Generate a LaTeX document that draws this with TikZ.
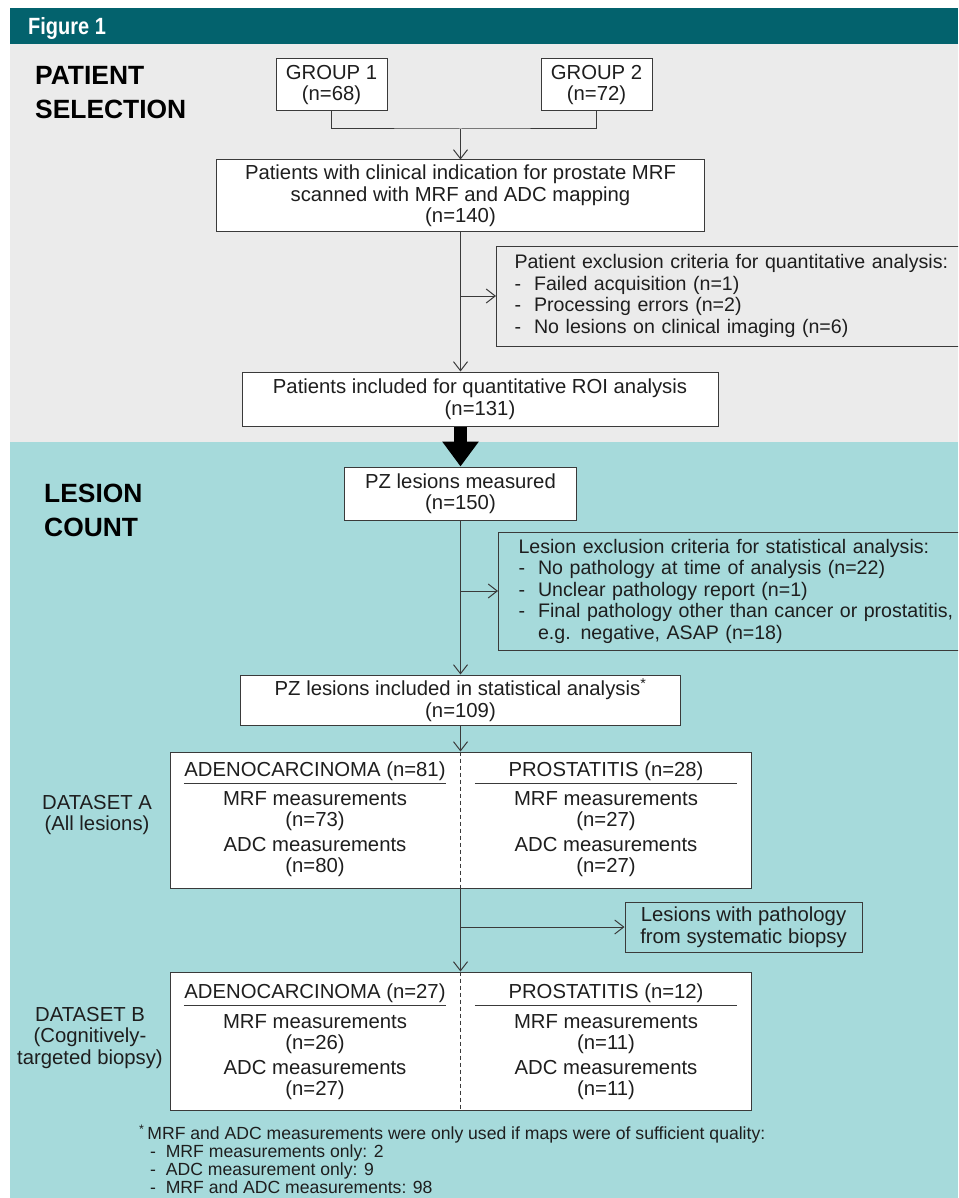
\documentclass[tikz,border=0pt]{standalone}
\usepackage{fontspec}
\setmainfont{Liberation Sans}
\newfontfamily\condfont[FakeStretch=0.85]{Liberation Sans}
\usetikzlibrary{arrows.meta,positioning,calc}
\definecolor{hdrbar}{HTML}{03626D}
\definecolor{selgrey}{HTML}{EBEBEB}
\definecolor{lesteal}{HTML}{A6DADB}
\definecolor{edgec}{HTML}{3A3A3A}
\definecolor{txtc}{HTML}{1E1E1E}

\begin{document}
\begin{tikzpicture}[
  x=1pt, y=-1pt,
  font=\fontsize{20.3}{21.5}\selectfont,
  text=txtc,
  box/.style={rectangle, draw=edgec, line width=1pt, fill=white,
              align=center, inner sep=0pt},
  exbox/.style={box, fill=none, align=left, inner xsep=18pt, anchor=west,
                font=\fontsize{19.6}{21.5}\selectfont},
  colhead/.style={minimum width=262pt, inner xsep=0pt, inner ysep=3pt},
  colbody/.style={align=center, inner sep=0pt},
  side/.style={align=center, inner sep=0pt},
  title/.style={font=\fontsize{26.4}{34}\selectfont\bfseries, text=black,
                align=left, inner sep=0pt, anchor=west},
  link/.style={draw=edgec, line width=1pt},
  flow/.style={link, -{Straight Barb[length=9pt,width=14pt]}},
  fat/.style={draw=black, line width=13pt, -{Triangle[length=25pt,width=35pt]}},
  divider/.style={draw=edgec, line width=0.7pt, dash pattern=on 4pt off 3pt},
]

% ---- backdrop ----
\useasboundingbox (0,0) rectangle (958,1198);
\clip (0,0) rectangle (958,1198);
\fill[hdrbar] (10,8) rectangle (958,44);
\fill[selgrey] (10,44) rectangle (958,442);
\fill[lesteal] (10,442) rectangle (958,1198);
\node[anchor=base west, text=white, inner sep=0pt,
      font=\condfont\fontsize{23.5}{24}\selectfont\bfseries] (fig) at (28,35) {Figure 1};

% ---- patient selection ----
\node[title] (psel) at (35,92.5) {PATIENT\\SELECTION};
\node[box, minimum width=111pt, minimum height=52pt] (grp1) at (331.5,85) {GROUP 1\\(n=68)};
\node[box, minimum width=111pt, minimum height=52pt] (grp2) at (596.5,85) {GROUP 2\\(n=72)};
\coordinate (join) at (460.5,129);
\node[box, minimum width=488pt, minimum height=72pt] (scan) at (460.5,196)
  {Patients with clinical indication for prostate MRF\\scanned with MRF and ADC mapping\\(n=140)};
\node[exbox, text width=452pt, minimum height=100pt] (pexcl) at (496,296)
  {Patient exclusion criteria for quantitative analysis:\\
   -~~Failed acquisition (n=1)\\
   -~~Processing errors (n=2)\\
   -~~No lesions on clinical imaging (n=6)};
\node[box, minimum width=476pt, minimum height=54pt] (incl) at (480,399)
  {Patients included for quantitative ROI analysis\\(n=131)};

% ---- lesion count ----
\node[title] (lcount) at (44,510) {LESION\\COUNT};
\node[box, minimum width=232pt, minimum height=53pt] (pzmeas) at (460.5,493.5)
  {PZ lesions measured\\(n=150)};
\node[exbox, inner xsep=20pt, text width=460pt, minimum height=118pt] (lexcl) at (498,591)
  {Lesion exclusion criteria for statistical analysis:\\
   -~~No pathology at time of analysis (n=22)\\
   -~~Unclear pathology report (n=1)\\
   -~~Final pathology other than cancer or prostatitis,\\
   \hphantom{-~~}e.g. negative, ASAP (n=18)};
\node[box, minimum width=440pt, minimum height=50pt] (pzincl) at (460.5,700)
  {PZ lesions included in statistical analysis\textsuperscript{*}\\(n=109)};

% ---- dataset A ----
\node[box, minimum width=581pt, minimum height=136pt] (dsA) at (460.5,820) {};
\node[side] (dsAlab) at (97,815) {DATASET A\\(All lesions)};
\node[colhead] (adcA) at (315,771) {ADENOCARCINOMA (n=81)};
\node[colhead] (prosA) at (606,771) {PROSTATITIS (n=28)};
\node[colbody] (adcAm) at (315,834) {MRF measurements\\(n=73)\\[3pt]ADC measurements\\(n=80)};
\node[colbody] (prosAm) at (606,834) {MRF measurements\\(n=27)\\[3pt]ADC measurements\\(n=27)};
\draw[link] (adcA.south west) -- (adcA.south east);
\draw[link] (prosA.south west) -- (prosA.south east);
\draw[divider] (dsA.north) -- (dsA.south);

\node[box, fill=none, minimum width=237pt, minimum height=50pt] (sysb) at (743.5,927)
  {Lesions with pathology\\from systematic biopsy};

% ---- dataset B ----
\node[box, minimum width=581pt, minimum height=138pt] (dsB) at (460.5,1041) {};
\node[side] (dsBlab) at (90,1038) {DATASET B\\(Cognitively-\\targeted biopsy)};
\node[colhead] (adcB) at (315,993) {ADENOCARCINOMA (n=27)};
\node[colhead] (prosB) at (606,993) {PROSTATITIS (n=12)};
\node[colbody] (adcBm) at (315,1057) {MRF measurements\\(n=26)\\[3pt]ADC measurements\\(n=27)};
\node[colbody] (prosBm) at (606,1057) {MRF measurements\\(n=11)\\[3pt]ADC measurements\\(n=11)};
\draw[link] (adcB.south west) -- (adcB.south east);
\draw[link] (prosB.south west) -- (prosB.south east);
\draw[divider] (dsB.north) -- (dsB.south);

% ---- footnote ----
\node[anchor=north west, align=left, inner sep=0pt,
      font=\fontsize{17.6}{18}\selectfont] (fnote) at (139,1125)
  {\textsuperscript{*}\,MRF and ADC measurements were only used if maps were of sufficient quality:\\
   \hspace*{11pt}-~~MRF measurements only: 2\\
   \hspace*{11pt}-~~ADC measurement only: 9\\
   \hspace*{11pt}-~~MRF and ADC measurements: 98};

% ---- flow edges ----
\draw[link] (grp1.south) |- (join) -| (grp2.south);
\draw[flow] (join) -- (scan.north);
\draw[flow] (scan.south) -- (scan.south |- incl.north);
\draw[flow] (scan.south |- pexcl.west) -- (pexcl.west);
\draw[fat] (scan.south |- incl.south) -- (pzmeas.north);
\draw[flow] (pzmeas.south) -- (pzincl.north);
\draw[flow] (pzmeas.south |- lexcl.west) -- (lexcl.west);
\draw[flow] (pzincl.south) -- (dsA.north);
\draw[flow] (dsA.south) -- (dsB.north);
\draw[flow] (dsA.south |- sysb.west) -- (sysb.west);
\end{tikzpicture}
\end{document}
